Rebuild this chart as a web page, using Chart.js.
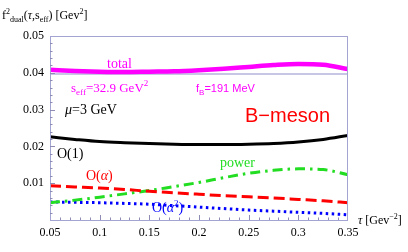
<!DOCTYPE html>
<html><head><meta charset="utf-8">
<script src="https://cdn.jsdelivr.net/npm/chart.js@4/dist/chart.umd.min.js"></script>
<style>html,body{margin:0;padding:0;background:#fff}</style>
</head><body>
<canvas id="c" width="408" height="252" style="width:408px;height:252px"></canvas>
<script>
// ---- data ----
const tau      = [0.05, 0.075, 0.1, 0.125, 0.15, 0.175, 0.2, 0.225, 0.25, 0.275, 0.3, 0.325, 0.35];
const total    = [0.0408, 0.0405, 0.0403, 0.0402, 0.0403, 0.0404, 0.0407, 0.0411, 0.0416, 0.0421, 0.0424, 0.0422, 0.0410];
const order1   = [0.0226, 0.0219, 0.0213, 0.0210, 0.0208, 0.0206, 0.0205, 0.0205, 0.0206, 0.0208, 0.0212, 0.0219, 0.0230];
const orderA   = [0.0093, 0.0090, 0.0087, 0.0083, 0.0078, 0.0074, 0.0070, 0.0066, 0.0063, 0.0060, 0.0056, 0.0052, 0.0047];
const power    = [0.0047, 0.0054, 0.0062, 0.0071, 0.0080, 0.0091, 0.0102, 0.0115, 0.0127, 0.0135, 0.0139, 0.0137, 0.0123];
const orderA2  = [0.0049, 0.0048, 0.0047, 0.0045, 0.0043, 0.0039, 0.0035, 0.0031, 0.0027, 0.0024, 0.0021, 0.0018, 0.0014];
const refLevel = 0.0397;
const xTicks = [0.05, 0.1, 0.15, 0.2, 0.25, 0.3, 0.35];
const yTicks = [0.01, 0.02, 0.03, 0.04, 0.05];

const pts = arr => tau.map((t, i) => ({x: t, y: arr[i]}));
const FRAME = '#a4a4d2';
const SERIF = '"Liberation Serif", "DejaVu Serif", serif';
const SANS = '"Liberation Sans", Arial, sans-serif';

function rich(ctx, x, y, segs, color) {
  ctx.save();
  ctx.fillStyle = color;
  ctx.textBaseline = 'alphabetic';
  ctx.textAlign = 'left';
  let cx = x;
  for (const s of segs) {
    ctx.font = (s.it ? 'italic ' : '') + s.size + 'px ' + (s.fam || SERIF);
    ctx.fillText(s.t, cx, y + (s.dy || 0));
    cx += ctx.measureText(s.t).width;
  }
  ctx.restore();
}

const deco = {
  id: 'deco',
  beforeDatasetsDraw(chart) {
    const {ctx, chartArea: a, scales: {x, y}} = chart;
    ctx.save();
    // reference level line
    ctx.strokeStyle = '#b4b4dc';
    ctx.lineWidth = 1.5;
    const ry = y.getPixelForValue(refLevel);
    ctx.beginPath(); ctx.moveTo(a.left, ry); ctx.lineTo(a.right, ry); ctx.stroke();
    ctx.restore();
  },
  afterDraw(chart) {
    const {ctx, chartArea: a, scales: {x, y}} = chart;
    ctx.save();
    // frame
    ctx.strokeStyle = FRAME;
    ctx.lineWidth = 1;
    ctx.strokeRect(a.left + 0.5, a.top + 0.5, a.right - a.left - 1, a.bottom - a.top);
    // inward ticks
    ctx.strokeStyle = '#8c8cb4';
    ctx.beginPath();
    for (let v = 0.002; v < 0.05; v += 0.002) {
      const py = Math.round(y.getPixelForValue(v)) + 0.5;
      const major = Math.abs(v / 0.01 - Math.round(v / 0.01)) < 1e-6;
      ctx.moveTo(a.left, py); ctx.lineTo(a.left + (major ? 5 : 2.5), py);
    }
    for (let v = 0.06; v < 0.35; v += 0.01) {
      const px = Math.round(x.getPixelForValue(v)) + 0.5;
      const major = Math.abs(v / 0.05 - Math.round(v / 0.05)) < 1e-6;
      ctx.moveTo(px, a.bottom); ctx.lineTo(px, a.bottom - (major ? 5 : 2.5));
    }
    ctx.stroke();
    ctx.restore();

    // axis titles
    rich(ctx, 2, 19, [
      {t: 'f', size: 12}, {t: '2', size: 8, dy: -5}, {t: 'dual', size: 8, dy: 3},
      {t: '(', size: 12}, {t: 'τ', size: 12, it: true}, {t: ',s', size: 12}, {t: 'eff', size: 8, dy: 3},
      {t: ') [Gev', size: 12}, {t: '2', size: 8, dy: -5}, {t: ']', size: 12}
    ], '#000');
    rich(ctx, 358, 224, [
      {t: 'τ', size: 12, it: true}, {t: ' [Gev', size: 12}, {t: '−2', size: 8, dy: -5}, {t: ']', size: 12}
    ], '#000');

    // annotations
    rich(ctx, 107, 68, [{t: 'total', size: 14}], '#ff00ff');
    rich(ctx, 71, 92, [
      {t: 's', size: 13}, {t: 'eff', size: 9, dy: 3}, {t: '=32.9 GeV', size: 13}, {t: '2', size: 9, dy: -6}
    ], '#ff00ff');
    rich(ctx, 196, 92, [
      {t: 'f', size: 11, fam: SANS}, {t: 'B', size: 8, dy: 3, fam: SANS}, {t: '=191 MeV', size: 11, fam: SANS}
    ], '#ff00ff');
    rich(ctx, 65, 114, [{t: 'μ', size: 14, it: true}, {t: '=3 GeV', size: 14}], '#000');
    rich(ctx, 245, 122, [{t: 'B−meson', size: 20, fam: SANS}], '#ff0000');
    rich(ctx, 57, 158, [{t: 'O(1)', size: 14}], '#000');
    rich(ctx, 86, 180, [{t: 'O(', size: 14}, {t: 'α', size: 14, it: true}, {t: ')', size: 14}], '#ff0000');
    rich(ctx, 220, 167, [{t: 'power', size: 14}], '#22dd22');
    rich(ctx, 152, 212, [{t: 'O(', size: 14}, {t: 'α', size: 14, it: true}, {t: '2', size: 9, dy: -6}, {t: ')', size: 14}], '#0000ff');
  }
};

const base = {fill: false, pointRadius: 0, cubicInterpolationMode: 'monotone', tension: 0.4, borderCapStyle: 'butt'};

new Chart(document.getElementById('c'), {
  type: 'line',
  data: {
    datasets: [
      Object.assign({label: 'total', data: pts(total), borderColor: '#ff00ff', borderWidth: 4.5}, base),
      Object.assign({label: 'O(1)', data: pts(order1), borderColor: '#000000', borderWidth: 3}, base),
      Object.assign({label: 'O(α)', data: pts(orderA), borderColor: '#ff0000', borderWidth: 3, borderDash: [11, 5]}, base),
      Object.assign({label: 'power', data: pts(power), borderColor: '#22dd22', borderWidth: 3, borderDash: [10, 5, 2.5, 5]}, base),
      Object.assign({label: 'O(α²)', data: pts(orderA2), borderColor: '#0000ff', borderWidth: 3, borderDash: [2.5, 3.5]}, base)
    ]
  },
  options: {
    responsive: false,
    devicePixelRatio: 1,
    animation: false,
    layout: {padding: {left: 0, right: 60, top: 36, bottom: 0}},
    plugins: {legend: {display: false}, tooltip: {enabled: false}},
    scales: {
      x: {
        type: 'linear', min: 0.05, max: 0.35,
        afterFit: s => { s.height = 32; },
        afterBuildTicks: s => { s.ticks = xTicks.map(v => ({value: v})); },
        grid: {display: false, drawTicks: false},
        border: {display: false},
        ticks: {padding: 6, color: '#000', font: {family: SERIF, size: 12},
                maxRotation: 0, autoSkip: false,
                callback: v => Number(v.toFixed(3)).toString()}
      },
      y: {
        type: 'linear', min: 0, max: 0.05,
        afterFit: s => { s.width = 50; },
        afterBuildTicks: s => { s.ticks = yTicks.map(v => ({value: v})); },
        grid: {display: false, drawTicks: false},
        border: {display: false},
        ticks: {padding: 6, color: '#000', font: {family: SERIF, size: 12},
                callback: v => Number(v.toFixed(3)).toString()}
      }
    }
  },
  plugins: [deco]
});
</script>
</body></html>
